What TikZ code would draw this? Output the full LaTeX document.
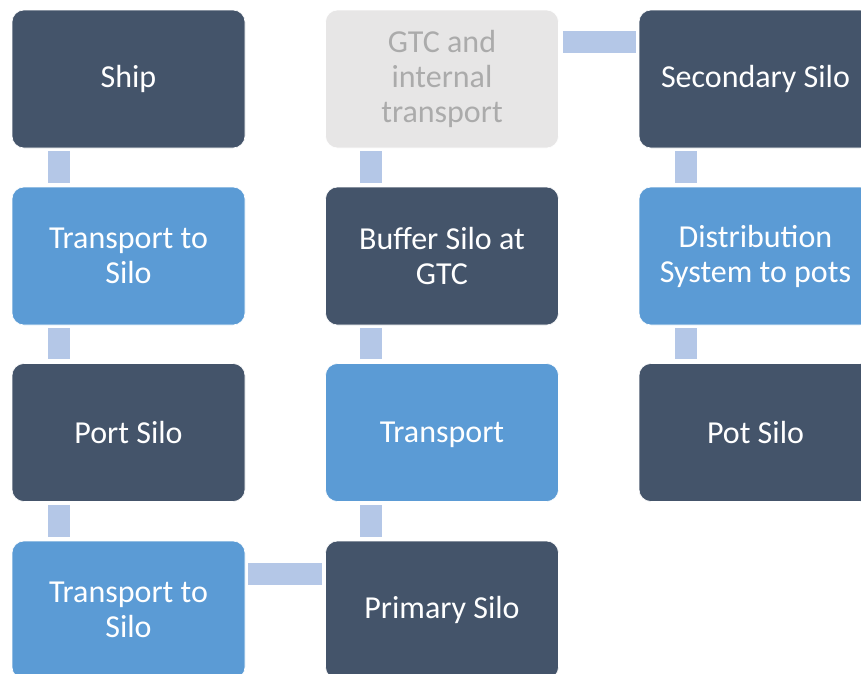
\documentclass[tikz,border=0pt]{standalone}
\usepackage{fontspec}
\setmainfont{Carlito}
\definecolor{darkbox}{HTML}{44546A}
\definecolor{bluebox}{HTML}{5B9BD5}
\definecolor{greybox}{HTML}{E7E6E6}
\definecolor{greytext}{HTML}{ABABAB}
\definecolor{linkblue}{HTML}{B4C7E7}
\begin{document}
\begin{tikzpicture}[x=1pt,y=-1pt,
  stage/.style={rectangle, rounded corners=12pt, minimum width=233pt, minimum height=138pt,
    inner sep=2pt, align=center, draw=white, line width=0.6pt,
    font=\fontsize{32}{35}\selectfont},
  darkstage/.style={stage, fill=darkbox, text=white},
  bluestage/.style={stage, fill=bluebox, text=white},
  greystage/.style={stage, fill=greybox, text=greytext},
  link/.style={draw=linkblue, line width=22pt, line cap=butt}]
\useasboundingbox (0,0) rectangle (861,673);
\begin{scope}
\clip (0,0) rectangle (861,673);
% first column
\node[darkstage] (ship)  at (128.5,79)  {Ship};
\node[bluestage] (tsA)   at (128.5,256) {Transport to\\Silo};
\node[darkstage] (port)  at (128.5,432.5) {Port Silo};
\node[bluestage] (tsB)   at (128.5,610) {Transport to\\Silo};
% second column
\node[greystage] (gtc)   at (442,79)  {GTC and\\internal\\transport};
\node[darkstage] (buf)   at (442,256) {Buffer Silo at\\GTC};
\node[bluestage] (trans) at (442,432.5) {\raisebox{0pt}[\height][0pt]{Transport}};
\node[darkstage] (prim)  at (442,610) {Primary Silo};
% third column
\node[darkstage] (sec)   at (755.5,79)  {Secondary Silo};
\node[bluestage] (dist)  at (755.5,256) {Distribution\\System to pots};
\node[darkstage] (pot)   at (755.5,432.5) {Pot Silo};
% links
\draw[link] ([xshift=47pt,yshift=-3pt]ship.south west) -- ([xshift=47pt,yshift=4pt]tsA.north west);
\draw[link] ([xshift=47pt,yshift=-3pt]tsA.south west) -- ([xshift=47pt,yshift=4pt]port.north west);
\draw[link] ([xshift=47pt,yshift=-3pt]port.south west) -- ([xshift=47pt,yshift=4pt]tsB.north west);
\draw[link] ([xshift=3pt,yshift=-33pt]tsB.north east) -- ([xshift=-3pt,yshift=-33pt]prim.north west);
\draw[link] ([xshift=46pt,yshift=4pt]prim.north west) -- ([xshift=46pt,yshift=-3pt]trans.south west);
\draw[link] ([xshift=46pt,yshift=4pt]trans.north west) -- ([xshift=46pt,yshift=-3pt]buf.south west);
\draw[link] ([xshift=46pt,yshift=4pt]buf.north west) -- ([xshift=46pt,yshift=-3pt]gtc.south west);
\draw[link] ([xshift=4pt,yshift=-32.5pt]gtc.north east) -- ([xshift=-3pt,yshift=-32.5pt]sec.north west);
\draw[link] ([xshift=47pt,yshift=-3pt]sec.south west) -- ([xshift=47pt,yshift=4pt]dist.north west);
\draw[link] ([xshift=47pt,yshift=-3pt]dist.south west) -- ([xshift=47pt,yshift=4pt]pot.north west);
\end{scope}
\end{tikzpicture}
\end{document}
